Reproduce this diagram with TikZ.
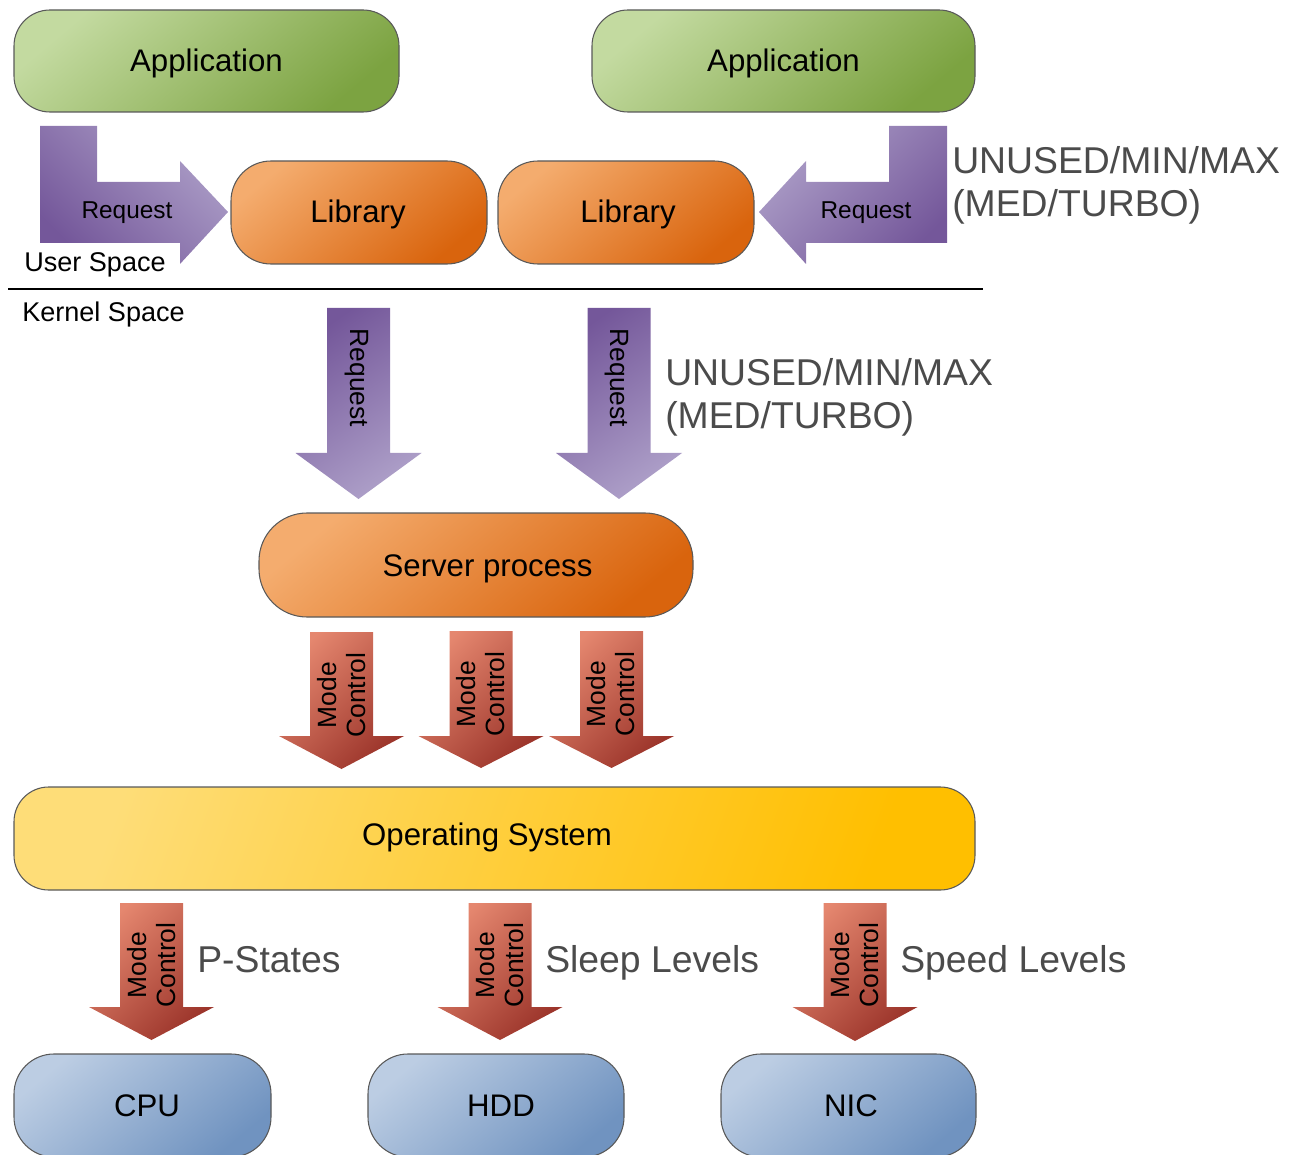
\documentclass[tikz,border=0pt]{standalone}
\usepackage{fontspec}
\setmainfont{Liberation Sans}
\usetikzlibrary{fit}
\definecolor{greenL}{HTML}{C3DAA0}
\definecolor{greenM}{HTML}{97B85E}
\definecolor{greenD}{HTML}{7CA341}
\definecolor{orangeL}{HTML}{F4AC6E}
\definecolor{orangeM}{HTML}{E38033}
\definecolor{orangeD}{HTML}{D9640D}
\definecolor{yellowL}{HTML}{FEDD78}
\definecolor{yellowM}{HTML}{FFCB33}
\definecolor{yellowD}{HTML}{FFBF00}
\definecolor{blueL}{HTML}{BCCDE3}
\definecolor{blueM}{HTML}{92ACCF}
\definecolor{blueD}{HTML}{7093C0}
\definecolor{purpD}{HTML}{74579A}
\definecolor{purpL}{HTML}{AD9FC8}
\definecolor{redL}{HTML}{E5876F}
\definecolor{redD}{HTML}{9C352B}
\definecolor{labgray}{HTML}{4B4B4B}
\newcommand\blockdown[8]{%
  \path[#2] (#3-#7,#4) -- (#3+#7,#4) -- (#3+#7,#5) -- (#3+#8,#5) -- (#3,#6)
    -- (#3-#8,#5) -- (#3-#7,#5) -- cycle;
  \coordinate (#1) at (#3,#6);
}
\begin{document}
\begin{tikzpicture}[x=0.75pt,y=-0.75pt,
  box/.style={draw=black!65, line width=0.8pt, rounded corners=27pt, inner sep=0pt},
  boxtext/.style={font=\fontsize{23.4}{28}\selectfont, text=black, inner sep=0pt, anchor=base},
  appbox/.style={box, top color=greenL, middle color=greenM, bottom color=greenD, shading angle=40},
  libbox/.style={box, top color=orangeL, middle color=orangeM, bottom color=orangeD, shading angle=40},
  osbox/.style={box, top color=yellowL, middle color=yellowM, bottom color=yellowD, shading angle=70},
  hwbox/.style={box, top color=blueL, middle color=blueM, bottom color=blueD, shading angle=40},
  purpleLeft/.style={top color=purpL, bottom color=purpD, shading angle=-45},
  purpleRight/.style={top color=purpL, bottom color=purpD, shading angle=45},
  purpleDown/.style={top color=purpD, bottom color=purpL, shading angle=35},
  redDown/.style={top color=redL, bottom color=redD, shading angle=45},
  bentreq/.style={font=\fontsize{18.3}{22}\selectfont, inner sep=0pt, anchor=base},
  downreq/.style={font=\fontsize{19.8}{24}\selectfont, inner sep=0pt, rotate=-90},
  modetext/.style={font=\fontsize{19.8}{21.75}\selectfont, inner sep=0pt, rotate=90, align=center},
  spacelab/.style={font=\fontsize{20.3}{24}\selectfont, inner sep=0pt, anchor=base west},
  graylab/.style={font=\fontsize{28}{32.25}\selectfont, text=labgray, inner sep=0pt, anchor=west, align=left},
  graylabs/.style={font=\fontsize{28}{32.25}\selectfont, text=labgray, inner sep=0pt, anchor=base west}
]
\path[use as bounding box] (0,0) rectangle (1296,1155);
\clip (0,0) rectangle (1296,1155);

% boxes
\node[appbox, fit={(14,10)(399,112)}] (app1) {};
\node[appbox, fit={(592,10)(975,112)}] (app2) {};
\node[libbox, rounded corners=30pt, fit={(231,161)(487,264)}] (lib1) {};
\node[libbox, rounded corners=30pt, fit={(498,161)(754,264)}] (lib2) {};
\node[libbox, rounded corners=36pt, fit={(259,513)(693,617)}] (server) {};
\node[osbox, rounded corners=26pt, fit={(14,787)(975,890)}] (os) {};
\node[hwbox, rounded corners=30pt, fit={(14,1054)(271,1157)}] (cpu) {};
\node[hwbox, rounded corners=30pt, fit={(368,1054)(624,1157)}] (hdd) {};
\node[hwbox, rounded corners=30pt, fit={(721,1054)(976,1157)}] (nic) {};

\node[boxtext] (app1t) at (206.5,72) {Application};
\node[boxtext] (app2t) at (783.5,72) {Application};
\node[boxtext] (lib1t) at (358,223) {Library};
\node[boxtext] (lib2t) at (628,223) {Library};
\node[boxtext] (servert) at (487.5,576) {Server process};
\node[boxtext] (ost) at (487,845) {Operating System};
\node[boxtext] (cput) at (147,1116) {CPU};
\node[boxtext] (hddt) at (501,1116) {HDD};
\node[boxtext] (nict) at (851,1116) {NIC};

% bent request arrows
\path[purpleLeft] (40,126) -- (97,126) -- (97,182) -- (180,182) -- (180,161) -- (228,212)
  -- (180,264) -- (180,243) -- (40,243) -- cycle;
\node[bentreq] (req1) at (127,218.5) {Request};
\path[purpleRight] (947,126) -- (889,126) -- (889,182) -- (806,182) -- (806,161) -- (759,212)
  -- (806,264) -- (806,243) -- (947,243) -- cycle;
\node[bentreq] (req2) at (866,218.5) {Request};

% user/kernel separation
\coordinate (sepL) at (8,289);
\coordinate (sepR) at (983,289);
\draw[line width=1.1pt] (sepL) -- (sepR);
\node[spacelab] (user) at (24,271.5) {User Space};
\node[spacelab] (kernel) at (22,321.5) {Kernel Space};

% request arrows down
\blockdown{rq1tip}{purpleDown}{358.5}{308}{453}{499}{31.5}{63}
\blockdown{rq2tip}{purpleDown}{619}{308}{453}{499}{31.5}{63}
\node[downreq] (rq1) at (357,378) {Request};
\node[downreq] (rq2) at (617,378) {Request};

% gray labels
\node[graylab] (lab1) at (952,185) {UNUSED/MIN/MAX\\(MED/TURBO)};
\node[graylab] (lab2) at (665,397.5) {UNUSED/MIN/MAX\\(MED/TURBO)};

% mode control arrows (server -> OS)
\blockdown{m1tip}{redDown}{341.5}{632}{736}{769}{31.5}{62.5}
\blockdown{m2tip}{redDown}{481}{631}{736}{768}{31.5}{62.5}
\blockdown{m3tip}{redDown}{611.5}{631}{736}{768}{31.5}{62.5}
\node[modetext] (mc1) at (342,695) {Mode\\Control};
\node[modetext] (mc2) at (481,694) {Mode\\Control};
\node[modetext] (mc3) at (611,694) {Mode\\Control};

% mode control arrows (OS -> devices)
\blockdown{d1tip}{redDown}{151.5}{903}{1007}{1040}{31.5}{62.5}
\blockdown{d2tip}{redDown}{500}{903}{1007}{1040}{31.5}{62.5}
\blockdown{d3tip}{redDown}{855}{903}{1007}{1041}{31.5}{62.5}
\node[modetext] (dc1) at (152,965) {Mode\\Control};
\node[modetext] (dc2) at (500,965) {Mode\\Control};
\node[modetext] (dc3) at (855,965) {Mode\\Control};

\node[graylabs] (ps) at (197,972.5) {P-States};
\node[graylabs] (sl) at (545,972.5) {Sleep Levels};
\node[graylabs] (sp) at (900,972.5) {Speed Levels};
\end{tikzpicture}
\end{document}
